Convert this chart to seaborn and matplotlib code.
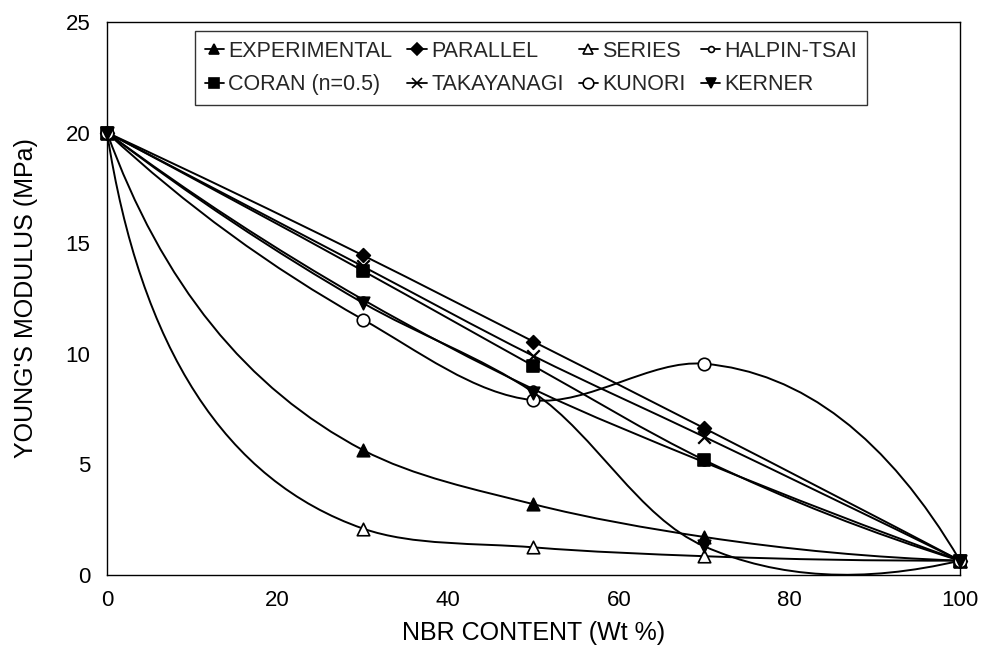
import numpy as np
import pandas as pd
import matplotlib
matplotlib.use("Agg")
import matplotlib.pyplot as plt
import seaborn as sns
from matplotlib.path import Path
from matplotlib.patches import PathPatch
from matplotlib.lines import Line2D

# ---------------- data ----------------
nbr_content = [0, 30, 50, 70, 100]
experimental = [20, 5.65, 3.2, 1.72, 0.65]
parallel = [20, 14.45, 10.55, 6.64, 0.65]
series = [20, 2.1, 1.25, 0.85, 0.65]
halpin_tsai = [20, 12.45, 8.4, 5.1, 0.65]
coran = [20, 13.75, 9.45, 5.2, 0.65]
takayanagi = [20, 13.95, 9.9, 6.25, 0.65]
kunori = [20, 11.55, 7.9, 9.55, 0.65]
kerner = [20, 12.3, 8.25, 1.3, 0.65]

model_names = ["EXPERIMENTAL", "PARALLEL", "SERIES", "HALPIN-TSAI",
               "CORAN (n=0.5)", "TAKAYANAGI", "KUNORI", "KERNER"]
model_values = [experimental, parallel, series, halpin_tsai,
                coran, takayanagi, kunori, kerner]
x_ticks = [0, 20, 40, 60, 80, 100]
y_ticks = [0, 5, 10, 15, 20, 25]
x_label = "NBR CONTENT (Wt %)"
y_label = "YOUNG'S MODULUS (MPa)"

df = pd.DataFrame([
    {"model": name, "nbr": x, "E": y}
    for name, vals in zip(model_names, model_values)
    for x, y in zip(nbr_content, vals)
])

# ---------------- styles ----------------
marker_style = {
    "EXPERIMENTAL": dict(marker="^", ms=9, fc="black"),
    "PARALLEL": dict(marker="D", ms=7, fc="black"),
    "SERIES": dict(marker="^", ms=9, fc="white"),
    "HALPIN-TSAI": dict(marker="o", ms=5, fc="white"),
    "CORAN (n=0.5)": dict(marker="s", ms=8, fc="black"),
    "TAKAYANAGI": dict(marker="x", ms=9, fc="black"),
    "KUNORI": dict(marker="o", ms=9, fc="white"),
    "KERNER": dict(marker="v", ms=9, fc="black"),
}

sns.set_theme(style="white")
plt.rcParams["font.family"] = ["Liberation Sans", "DejaVu Sans"]

fig = plt.figure(figsize=(9.92, 6.52), dpi=100)
ax = fig.add_axes([0.1079, 0.1181, 0.8598, 0.8482])
ax.set_xlim(0, 100)
ax.set_ylim(0, 25)


def smooth_path(xs, ys):
    """Chord-length parametric Bessel spline through the data points,
    built in display space and mapped back to data space."""
    P = ax.transData.transform(np.column_stack([xs, ys]))
    d = np.diff(P, axis=0)
    L = np.hypot(d[:, 0], d[:, 1])
    u = d / L[:, None]
    n = len(P)
    T = np.zeros_like(P)
    for i in range(1, n - 1):
        T[i] = (L[i] * u[i - 1] + L[i - 1] * u[i]) / (L[i - 1] + L[i])
    T[0] = 2 * u[0] - T[1]
    T[-1] = 2 * u[-1] - T[-2]
    verts = [P[0]]
    codes = [Path.MOVETO]
    for i in range(n - 1):
        verts += [P[i] + L[i] * T[i] / 3, P[i + 1] - L[i] * T[i + 1] / 3, P[i + 1]]
        codes += [Path.CURVE4] * 3
    verts = ax.transData.inverted().transform(np.array(verts))
    return Path(verts, codes)


for name in model_names:
    sub = df[df["model"] == name]
    ax.add_patch(PathPatch(smooth_path(sub["nbr"].values, sub["E"].values),
                           facecolor="none", edgecolor="black", lw=1.4, zorder=2))

for name in model_names:
    sub = df[df["model"] == name]
    st = marker_style[name]
    kw = dict(x=sub["nbr"], y=sub["E"], marker=st["marker"], s=st["ms"] ** 2,
              ax=ax, zorder=3, legend=False, clip_on=False)
    if st["marker"] == "x":
        sns.scatterplot(color="black", linewidth=1.6, **kw)
    else:
        sns.scatterplot(facecolor=st["fc"], edgecolor="black", linewidth=1.2, **kw)

# axes styling
for sp in ax.spines.values():
    sp.set_visible(True)
    sp.set_color("black")
    sp.set_linewidth(1.0)
ax.set_xticks(x_ticks)
ax.set_yticks(y_ticks)
ax.tick_params(axis="both", direction="in", length=9, width=1.0,
               colors="black", labelsize=16)
ax.tick_params(axis="x", pad=11)
ax.tick_params(axis="y", pad=12)
ax.set_xlabel(x_label, fontsize=18, color="black", labelpad=7)
ax.set_ylabel(y_label, fontsize=18, color="black", labelpad=20)
ax.grid(False)

# legend (column-major fill -> reorder so rows read as in the reference)
order = [0, 4, 1, 5, 2, 6, 3, 7]
handles, labels = [], []
for i in order:
    name = model_names[i]
    st = marker_style[name]
    handles.append(Line2D([0], [0], color="black", lw=1.3, marker=st["marker"],
                          markersize=st["ms"] * 0.85, markerfacecolor=st["fc"],
                          markeredgecolor="black", markeredgewidth=1.2))
    labels.append(name)
leg = ax.legend(handles, labels, ncol=4, loc="upper left",
                bbox_to_anchor=(0.103, 0.984), frameon=True, fancybox=False,
                edgecolor="black", fontsize=15.5, handlelength=0.9,
                handletextpad=0.2, columnspacing=0.7, borderpad=0.45,
                labelspacing=0.6, borderaxespad=0.0)
leg.get_frame().set_linewidth(1.0)

fig.savefig("out.png", dpi=100, facecolor="white")
